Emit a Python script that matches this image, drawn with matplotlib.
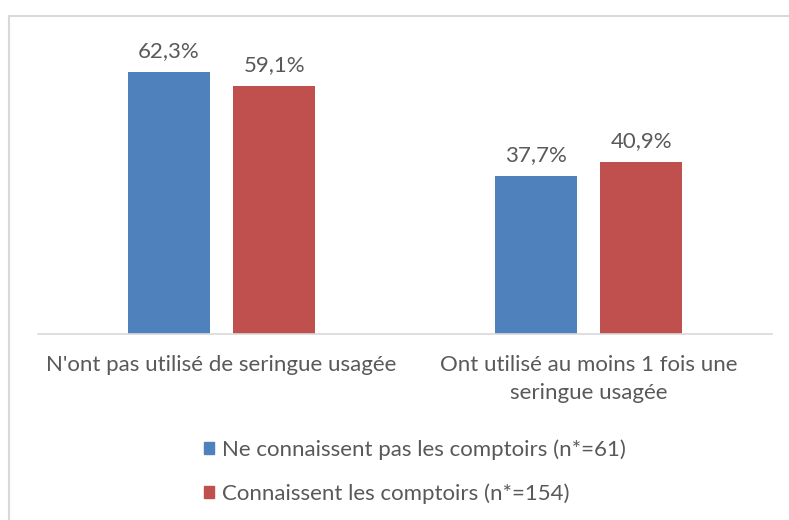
import matplotlib.pyplot as plt
from matplotlib.patches import Rectangle, Patch
import numpy as np

# Données
categories = ["N'ont pas utilisé de seringue usagée",
              "Ont utilisé au moins 1 fois une\nseringue usagée"]
ne_connaissent_pas = [62.3, 37.7]
connaissent = [59.1, 40.9]
series_labels = ["Ne connaissent pas les comptoirs (n*=61)",
                 "Connaissent les comptoirs (n*=154)"]

bleu = "#4F81BD"
rouge = "#C0504D"
gris = "#595959"

plt.rcParams['font.family'] = ['Lato', 'DejaVu Sans']

fig = plt.figure(figsize=(7.89, 5.2), dpi=100)
fig.patches.append(Rectangle((8.5 / 789, -0.1), 1.2, (520 - 15.5) / 520 + 0.1,
                             transform=fig.transFigure, fill=False,
                             edgecolor="#d9d9d9", linewidth=1.5))

ax = fig.add_axes([38 / 789, 186 / 520, 734 / 789, 294 / 520])
x = np.arange(len(categories))
largeur = 0.223
decal = 0.144

b1 = ax.bar(x - decal, ne_connaissent_pas, largeur, color=bleu)
b2 = ax.bar(x + decal, connaissent, largeur, color=rouge)

for barres, vals in [(b1, ne_connaissent_pas), (b2, connaissent)]:
    for b, v in zip(barres, vals):
        ax.text(b.get_x() + b.get_width() / 2, v + 2.6,
                f"{v:.1f}%".replace(".", ","), ha="center", va="bottom",
                fontsize=16, color=gris)

ax.set_xlim(-0.5, 1.5)
ax.set_ylim(0, 70)
ax.set_yticks([])
ax.set_xticks(x)
ax.set_xticklabels(categories, fontsize=16, color=gris, linespacing=1.5)
ax.tick_params(axis="x", length=0, pad=15)
for s in ["top", "right", "left"]:
    ax.spines[s].set_visible(False)
ax.spines["bottom"].set_color("#d9d9d9")
ax.spines["bottom"].set_linewidth(1.2)

handles = [Patch(color=bleu), Patch(color=rouge)]
leg = fig.legend(handles, series_labels, loc="upper left",
                 bbox_to_anchor=(193 / 789, 1 - 428 / 520), frameon=False,
                 fontsize=16, labelspacing=1.05, handlelength=0.45,
                 handleheight=0.45, handletextpad=0.35, borderpad=0)
for t in leg.get_texts():
    t.set_color(gris)

fig.savefig("out.png", dpi=100)
